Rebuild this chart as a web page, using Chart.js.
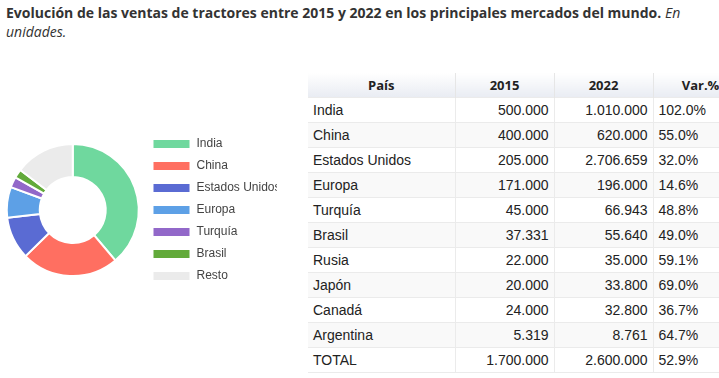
<!DOCTYPE html>
<html lang="es">
<head>
<meta charset="utf-8">
<script src="https://cdn.jsdelivr.net/npm/chart.js@4/dist/chart.umd.min.js"></script>
<style>
  html, body { margin: 0; padding: 0; background: #fff; }
  body { width: 719px; height: 378px; overflow: hidden; position: relative; }
  #title {
    position: absolute; left: 6px; top: 3px; width: 712px;
    font-family: "Open Sans", sans-serif; font-size: 14px; line-height: 19px;
    font-weight: 700; color: #333;
  }
  #title em { font-weight: 400; }
  #wrap { position: absolute; left: 0; top: 120px; width: 277px; height: 180px; overflow: hidden; }
  #wrap canvas { display: block; }
  table {
    position: absolute; left: 308px; top: 73px;
    border-collapse: collapse; table-layout: fixed; width: 440px;
    font-family: "Liberation Sans", Arial, sans-serif; font-size: 14px; color: #222;
  }
  th {
    font-family: "Open Sans", sans-serif; font-size: 13px; font-weight: 700; color: #222;
    height: 24px; padding: 0 5px; text-align: center;
    background: linear-gradient(#ffffff, #e9ecf3);
    border-right: 1px solid #e6e6e6;
  }
  td {
    height: 24px; padding: 0 5px; white-space: nowrap;
    border-top: 1px solid #ebebeb; border-bottom: 1px solid #ebebeb; border-right: 1px solid #ebebeb;
  }
  td.n { text-align: right; }
  tbody tr:nth-child(even) td { background: #f9f9f9; }
</style>
</head>
<body>
<div id="title">Evolución de las ventas de tractores entre 2015 y 2022 en los principales mercados del mundo. <em>En unidades.</em></div>
<div id="wrap"><canvas id="chart" width="282" height="180"></canvas></div>
<table id="tbl">
  <colgroup><col style="width:147px"><col style="width:99px"><col style="width:99px"><col style="width:95px"></colgroup>
  <thead><tr><th>País</th><th>2015</th><th>2022</th><th>Var.%</th></tr></thead>
  <tbody></tbody>
</table>
<script>
// doughnut: ventas 2022
const sliceLabels = ['India', 'China', 'Estados Unidos', 'Europa', 'Turquía', 'Brasil', 'Resto']
const sliceValues = [1010000, 620000, 270659, 196000, 66943, 55640, 380758]
const sliceColors = ['#6fd89e', '#ff6f61', '#5a6bd3', '#5da0e6', '#9268c9', '#62aa3a', '#ebebeb']

// table
const countries = ['India', 'China', 'Estados Unidos', 'Europa', 'Turquía', 'Brasil', 'Rusia', 'Japón', 'Canadá', 'Argentina', 'TOTAL']
const sales2015 = ['500.000', '400.000', '205.000', '171.000', '45.000', '37.331', '22.000', '20.000', '24.000', '5.319', '1.700.000']
const sales2022 = ['1.010.000', '620.000', '2.706.659', '196.000', '66.943', '55.640', '35.000', '33.800', '32.800', '8.761', '2.600.000']
const variation = ['102.0%', '55.0%', '32.0%', '14.6%', '48.8%', '49.0%', '59.1%', '69.0%', '36.7%', '64.7%', '52.9%']

const tbody = document.querySelector('#tbl tbody')
countries.forEach((c, i) => {
  const tr = document.createElement('tr')
  tr.innerHTML = `<td>${c}</td><td class="n">${sales2015[i]}</td><td class="n">${sales2022[i]}</td><td>${variation[i]}</td>`
  tbody.appendChild(tr)
})

new Chart(document.getElementById('chart'), {
  type: 'doughnut',
  data: {
    labels: sliceLabels,
    datasets: [{
      data: sliceValues,
      backgroundColor: sliceColors,
      borderColor: '#fff',
      borderWidth: 2,
    }],
  },
  options: {
    responsive: false,
    animation: false,
    radius: 66,
    cutout: '50%',
    layout: { padding: { left: 3 } },
    plugins: {
      tooltip: { enabled: false },
      legend: {
        position: 'right',
        labels: {
          boxWidth: 38,
          boxHeight: 10,
          padding: 10,
          color: '#444',
          font: { family: '"Liberation Sans", Arial, sans-serif', size: 12, lineHeight: 1 },
        },
      },
    },
  },
})
</script>
</body>
</html>
